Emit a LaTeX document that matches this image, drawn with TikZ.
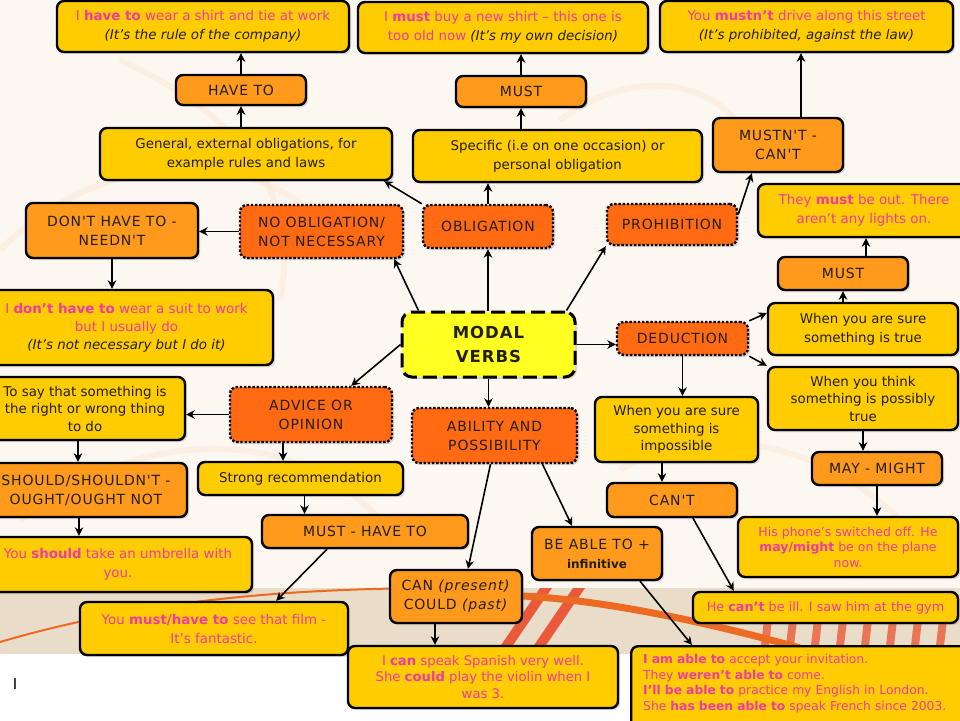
\documentclass[tikz,border=0pt]{standalone}
\usepackage{fontspec}
\setmainfont{DejaVu Sans}
\newfontfamily\capsf[LetterSpace=6]{DejaVu Sans}
\usetikzlibrary{arrows.meta,shadows}
\definecolor{ygold}{HTML}{FFCC00}
\definecolor{orng}{HTML}{FF9A1C}
\definecolor{redor}{HTML}{FF6A12}
\definecolor{modalc}{HTML}{FFFF22}
\definecolor{pinkc}{HTML}{EE3BA6}
\definecolor{txt}{HTML}{231F10}
\definecolor{cream}{HTML}{FDF7F1}
\definecolor{tanc}{HTML}{E9DCC8}
\definecolor{swirl}{HTML}{F7E2C8}
\definecolor{stripe}{HTML}{EA5A3A}
\definecolor{orline}{HTML}{EC6A22}
\newcommand\itx[1]{\textcolor{txt}{\textit{#1}}}
\begin{document}
\begin{tikzpicture}[x=1pt,y=-1pt,
 box/.style={draw=black, line width=2.4pt, rounded corners=7pt, align=center, inner sep=2pt, text=txt,
   font=\fontsize{13.4}{19}\selectfont,
   drop shadow={opacity=0.3,shadow xshift=2pt,shadow yshift=-2pt}},
 ybox/.style={box, fill=ygold},
 ex/.style={ybox, text=pinkc},
 obox/.style={box, fill=orng, font=\capsf\fontsize{14}{19}\selectfont},
 dbox/.style={box, fill=redor, dash pattern=on 2.4pt off 1.8pt, font=\capsf\fontsize{14}{19}\selectfont},
 modalbox/.style={box, fill=modalc, line width=3pt, dash pattern=on 14pt off 6pt, rounded corners=10pt,
   font=\capsf\bfseries\fontsize{16.5}{24}\selectfont},
 conn/.style={line width=1.6pt, -{Stealth[length=8.5pt,width=8.5pt]}},
]
\useasboundingbox (0,0) rectangle (960,720);
\clip (0,0) rectangle (960,720);
% background
\fill[white] (0,0) rectangle (960,720);
\fill[cream] (0,0) rectangle (960,652);
\begin{scope}[swirl, line width=6pt, opacity=0.35]
\draw (0,250) .. controls (100,150) and (250,140) .. (330,230);
\draw (120,60) .. controls (250,120) and (300,200) .. (280,300);
\draw (560,120) .. controls (640,60) and (740,80) .. (760,170);
\draw (20,520) .. controls (150,420) and (300,430) .. (380,520);
\draw (620,470) .. controls (700,420) and (820,440) .. (900,520);
\end{scope}
\fill[tanc] (0,588) rectangle (960,654);
\draw[orline, line width=2pt] (0,642) .. controls (150,598) and (300,588) .. (450,588);
\foreach \x in {495,528} {\fill[stripe] (\x,654) -- (\x+45,588) -- (\x+57,588) -- (\x+12,654) -- cycle;}
\foreach \x in {760,785,810,835,860,885,910,935} {\fill[stripe,opacity=0.8] (\x,654) -- (\x+4,620) -- (\x+12,620) -- (\x+8,654) -- cycle;}
\draw[orline, line width=7pt] (523,596) .. controls (600,600) and (700,620) .. (800,648);

% nodes
\node[ex, minimum width=292, minimum height=51] (exhave) at (203,26.5) {I \textbf{have to} wear a shirt and tie at work\\\itx{(It's the rule of the company)}};
\node[ex, minimum width=290, minimum height=51] (exmust) at (503,27.5) {I \textbf{must} buy a new shirt – this one is\\too old now \itx{(It's my own decision)}};
\node[ex, minimum width=293, minimum height=51] (exmustnt) at (806.5,26.5) {You \textbf{mustn't} drive along this street\\\itx{(It's prohibited, against the law)}};

\node[obox, minimum width=130, minimum height=30] (haveto) at (241,90) {HAVE TO};
\node[obox, minimum width=130, minimum height=31] (must1) at (521,91.5) {MUST};
\node[obox, minimum width=130, minimum height=54] (mustnt) at (778,145) {MUSTN'T -\\CAN'T};

\node[ybox, minimum width=292, minimum height=52] (general) at (246,154) {General, external obligations, for\\example rules and laws};
\node[ybox, minimum width=289, minimum height=52] (specific) at (557.5,156) {Specific (i.e on one occasion) or\\personal obligation};
\node[ex, minimum width=212, minimum height=53] (theymust) at (864,210.5) {They \textbf{must} be out. There\\aren't any lights on.};
\node[obox, minimum width=130, minimum height=33] (must2) at (843,273.5) {MUST};
\node[ybox, minimum width=190, minimum height=52] (suretrue) at (863,329) {When you are sure\\something is true};

\node[obox, minimum width=172, minimum height=55] (donthave) at (112,230.5) {DON'T HAVE TO -\\NEEDN'T};
\node[dbox, minimum width=163, minimum height=53] (noobl) at (321.5,231.5) {NO OBLIGATION/\\NOT NECESSARY};
\node[dbox, minimum width=130, minimum height=43] (obl) at (488,226.5) {OBLIGATION};
\node[dbox, minimum width=130, minimum height=41] (prohib) at (672,224.5) {PROHIBITION};
\node[ex, minimum width=293, minimum height=75, font=\fontsize{13.4}{18}\selectfont] (idonthave) at (126.5,327.5) {I \textbf{don't have to} wear a suit to work\\but I usually do\\\itx{(It's not necessary but I do it)}};

\node[modalbox, minimum width=173, minimum height=65] (modal) at (488.5,344.5) {MODAL\\VERBS};
\node[dbox, minimum width=131, minimum height=33] (deduction) at (682.5,338.5) {DEDUCTION};
\node[ybox, minimum width=190, minimum height=63, font=\fontsize{13.4}{17.5}\selectfont] (thinkposs) at (863,398.5) {When you think\\something is possibly\\true};

\node[ybox, minimum width=200, minimum height=63, font=\fontsize{13.4}{17.5}\selectfont] (tosay) at (85,408.5) {To say that something is\\the right or wrong thing\\to do};
\node[dbox, minimum width=162, minimum height=55] (advice) at (311,414.5) {ADVICE OR\\OPINION};
\node[dbox, minimum width=165, minimum height=55] (ability) at (494.5,435.5) {ABILITY AND\\POSSIBILITY};
\node[ybox, minimum width=163, minimum height=65, font=\fontsize{13.4}{17.5}\selectfont] (sureimp) at (676.5,429.5) {When you are sure\\something is\\impossible};

\node[ybox, minimum width=205, minimum height=33] (strong) at (300.5,478.5) {Strong recommendation};
\node[obox, minimum width=202, minimum height=54] (should) at (86,490) {SHOULD/SHOULDN'T -\\OUGHT/OUGHT NOT};
\node[obox, minimum width=130, minimum height=34] (cant) at (672,500) {CAN'T};
\node[obox, minimum width=130, minimum height=33] (maymight) at (877,468.5) {MAY - MIGHT};

\node[obox, minimum width=206, minimum height=33] (musthave) at (365,531.5) {MUST - HAVE TO};
\node[ex, minimum width=268, minimum height=55] (youshould) at (118,564.5) {You \textbf{should} take an umbrella with\\you.};
\node[obox, minimum width=130, minimum height=53] (beable) at (597,553.5) {BE ABLE TO +\\{\rmfamily\bfseries\fontsize{12}{15}\selectfont infinitive}};
\node[ex, minimum width=220, minimum height=60, font=\fontsize{12.5}{15.5}\selectfont] (hisphone) at (848,547) {His phone's switched off. He\\\textbf{may/might} be on the plane\\now.};

\node[obox, minimum width=132, minimum height=53] (cancould) at (456,596.5) {CAN \textit{(present)}\\COULD \textit{(past)}};
\node[ex, minimum width=265, minimum height=31, font=\fontsize{12.8}{16}\selectfont] (hecant) at (825.5,607.5) {He \textbf{can't} be ill. I saw him at the gym};
\node[ex, minimum width=268, minimum height=53] (youmust) at (214,628.5) {You \textbf{must/have to} see that film -\\It's fantastic.};
\node[ex, minimum width=270, minimum height=62, font=\fontsize{13.2}{16.5}\selectfont] (icanspeak) at (483,677) {I \textbf{can} speak Spanish very well.\\She \textbf{could} play the violin when I\\was 3.};
\node[ex, anchor=north west, align=left, inner xsep=12pt, inner ysep=8pt, text width=312pt, font=\fontsize{12.3}{15.5}\selectfont] (iamable) at (630,645) {\textbf{I am able to} accept your invitation.\\They \textbf{weren't able to} come.\\\textbf{I'll be able to} practice my English in London.\\She \textbf{has been able to} speak French since 2003.\\\mbox{}};

\node[font=\fontsize{15}{15}\selectfont, text=black] (cursor) at (15,684) {I};

% connectors
\draw[conn] (haveto.north) -- (haveto.north |- exhave.south);
\draw[conn] (general.north -| haveto) -- (haveto.south);
\draw[conn] (must1.north) -- (must1.north |- exmust.south);
\draw[conn] (specific.north -| must1) -- (must1.south);
\draw[conn] ([xshift=23pt]mustnt.north) -- ([xshift=23pt]mustnt.north |- exmustnt.south);
\draw[conn] ([yshift=10pt]prohib.east) -- ([xshift=40pt]mustnt.south west);
\draw[conn] (obl.north west) -- ([xshift=-9pt]general.south east);
\draw[conn] (modal.north -| obl) -- (obl.south);
\draw[conn] (obl.north) -- (obl.north |- specific.south);
\draw[conn] ([xshift=18pt]modal.north west) -- ([xshift=-10pt]noobl.south east);
\draw[conn] (noobl.west) -- (noobl.west -| donthave.east);
\draw[conn] (donthave.south) -- (donthave.south |- idonthave.north);
\draw[conn] ([xshift=-10pt]modal.north east) -- (prohib.south west);
\draw[conn] (modal.east) -- (modal.east -| deduction.west);
\draw[conn] (deduction.north east) -- ([yshift=16pt]suretrue.west);
\draw[conn] (deduction.south east) -- (thinkposs.north west);
\draw[conn] (deduction.south) -- (deduction.south |- sureimp.north);
\draw[conn] (suretrue.north -| must2) -- (must2.south);
\draw[conn] ([xshift=23pt]must2.north) -- ([xshift=23pt]must2.north |- theymust.south);
\draw[conn] (thinkposs.south) -- (thinkposs.south |- maymight.north);
\draw[conn] (maymight.south) -- (maymight.south |- hisphone.north);
\draw[conn] ([xshift=-10pt]cant.north |- sureimp.south) -- ([xshift=-10pt]cant.north);
\draw[conn] ([xshift=21pt]cant.south) -- ([xshift=42pt]hecant.north west);
\draw[conn] (modal.west) -- ([xshift=-42pt]advice.north east);
\draw[conn] (advice.west) -- (advice.west -| tosay.east);
\draw[conn] ([xshift=-28pt]advice.south) -- ([xshift=-28pt]advice.south |- strong.north);
\draw[conn] ([xshift=-7pt]tosay.south) -- ([xshift=-7pt]tosay.south |- should.north);
\draw[conn] ([xshift=-7pt]should.south) -- ([xshift=-7pt]should.south |- youshould.north);
\draw[conn] ([xshift=4pt]strong.south) -- ([xshift=4pt]strong.south |- musthave.north);
\draw[conn] ([xshift=-38pt]musthave.south) -- ([xshift=-73pt]youmust.north east);
\draw[conn] (modal.south) -- (modal.south |- ability.north);
\draw[conn] ([xshift=-4pt]ability.south) -- ([xshift=12pt]cancould.north);
\draw[conn] ([xshift=48pt]ability.south) -- ([xshift=-25pt]beable.north);
\draw[conn] ([xshift=-21pt]cancould.south) -- ([xshift=-21pt]cancould.south |- icanspeak.north);
\draw[conn] ([xshift=43pt]beable.south) -- ([xshift=62pt]iamable.north west);
\end{tikzpicture}
\end{document}
